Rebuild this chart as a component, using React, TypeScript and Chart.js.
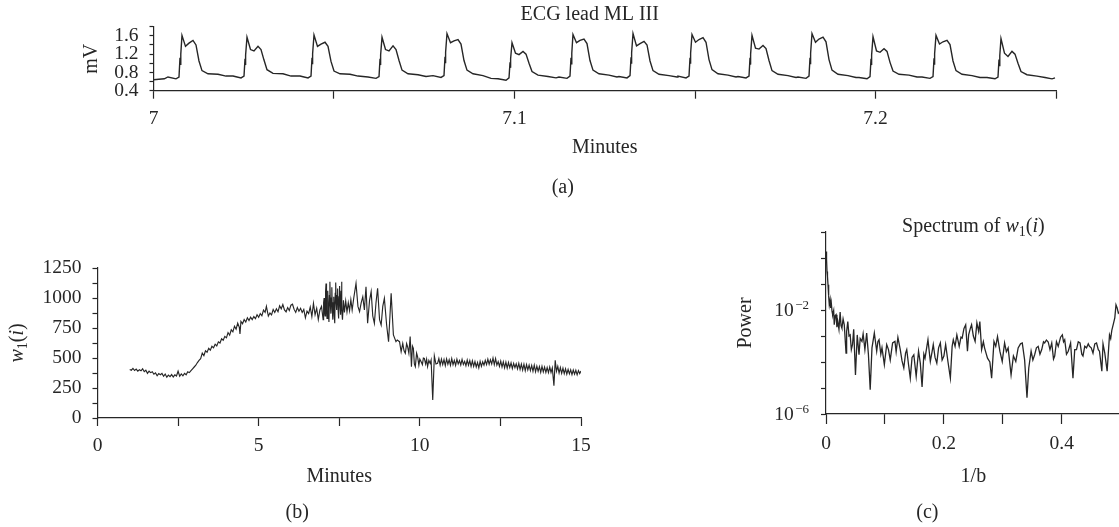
import React, { useEffect, useRef } from "react";
import { Chart, registerables } from "chart.js";

Chart.register(...registerables);

const FONT = '"Liberation Serif", "Times New Roman", serif';
const INK = "#262626";

// ---------- (a) ECG lead ML III : [minutes, mV] ----------
const ecgPoints: [number, number][] = [
  [7.0, 0.64], [7.0015, 0.65], [7.003, 0.66],
  [7.00401, 0.7], [7.00623, 0.66], [7.00706, 0.7], [7.00734, 1.12], [7.00745, 0.98], [7.00756, 1.2], [7.00789, 1.61], [7.00886, 1.37], [7.00983, 1.44], [7.01094, 1.5], [7.01177, 1.4], [7.0126, 1.05], [7.01343, 0.84], [7.01509, 0.77], [7.01786, 0.76], [7.02008, 0.72],
  [7.02202, 0.72], [7.02424, 0.68], [7.02507, 0.72], [7.02535, 1.1], [7.02546, 0.96], [7.02557, 1.18], [7.0259, 1.57], [7.02687, 1.3], [7.02784, 1.27], [7.02895, 1.37], [7.02978, 1.3], [7.03061, 1.07], [7.03144, 0.86], [7.0331, 0.78], [7.03587, 0.77], [7.03809, 0.72],
  [7.04058, 0.72], [7.0428, 0.68], [7.04363, 0.72], [7.04391, 1.12], [7.04402, 0.98], [7.04413, 1.21], [7.04446, 1.62], [7.04543, 1.37], [7.0464, 1.42], [7.04751, 1.46], [7.04834, 1.37], [7.04917, 1.04], [7.05, 0.83], [7.05166, 0.77], [7.05443, 0.76], [7.05665, 0.72],
  [7.05942, 0.7], [7.06164, 0.67], [7.06247, 0.71], [7.06275, 1.1], [7.06286, 0.96], [7.06297, 1.18], [7.0633, 1.57], [7.06427, 1.3], [7.06524, 1.27], [7.06635, 1.38], [7.06718, 1.3], [7.06801, 1.06], [7.06884, 0.85], [7.0705, 0.77], [7.07327, 0.75], [7.07549, 0.71],
  [7.07742, 0.73], [7.07964, 0.69], [7.08047, 0.73], [7.08075, 1.14], [7.08086, 1.0], [7.08097, 1.24], [7.0813, 1.65], [7.08227, 1.45], [7.08324, 1.49], [7.08435, 1.52], [7.08518, 1.42], [7.08601, 1.06], [7.08684, 0.85], [7.0885, 0.77], [7.09127, 0.73], [7.09349, 0.67],
  [7.09543, 0.66], [7.09765, 0.63], [7.09848, 0.68], [7.09876, 1.02], [7.09887, 0.9], [7.09898, 1.1], [7.09931, 1.45], [7.10028, 1.22], [7.10125, 1.19], [7.10236, 1.26], [7.10319, 1.2], [7.10402, 1.0], [7.10485, 0.82], [7.10651, 0.74], [7.10928, 0.71], [7.1115, 0.68],
  [7.11232, 0.7], [7.11454, 0.67], [7.11537, 0.72], [7.11565, 1.12], [7.11576, 0.99], [7.11587, 1.22], [7.1162, 1.63], [7.11717, 1.45], [7.11814, 1.5], [7.11925, 1.53], [7.12008, 1.43], [7.12091, 1.06], [7.12174, 0.85], [7.1234, 0.77], [7.12617, 0.74], [7.12839, 0.7],
  [7.12895, 0.71], [7.13117, 0.68], [7.132, 0.73], [7.13228, 1.13], [7.13239, 0.99], [7.1325, 1.23], [7.13283, 1.65], [7.1338, 1.38], [7.13477, 1.43], [7.13588, 1.48], [7.13671, 1.4], [7.13754, 1.05], [7.13837, 0.84], [7.14003, 0.76], [7.1428, 0.73], [7.14502, 0.7],
  [7.14529, 0.72], [7.14751, 0.68], [7.14834, 0.72], [7.14862, 1.12], [7.14873, 0.99], [7.14884, 1.22], [7.14917, 1.63], [7.15014, 1.46], [7.15111, 1.52], [7.15222, 1.56], [7.15305, 1.46], [7.15388, 1.08], [7.15471, 0.86], [7.15637, 0.77], [7.15914, 0.74], [7.16136, 0.7],
  [7.16191, 0.71], [7.16413, 0.68], [7.16496, 0.72], [7.16524, 1.12], [7.16535, 0.97], [7.16546, 1.2], [7.16579, 1.61], [7.16676, 1.33], [7.16773, 1.31], [7.16884, 1.39], [7.16967, 1.32], [7.1705, 1.06], [7.17133, 0.84], [7.17299, 0.76], [7.17576, 0.73], [7.17798, 0.69],
  [7.17853, 0.7], [7.18075, 0.67], [7.18158, 0.72], [7.18186, 1.12], [7.18197, 0.98], [7.18208, 1.22], [7.18241, 1.65], [7.18338, 1.46], [7.18435, 1.53], [7.18546, 1.57], [7.18629, 1.47], [7.18712, 1.08], [7.18795, 0.85], [7.18961, 0.76], [7.19238, 0.73], [7.1946, 0.69],
  [7.19543, 0.69], [7.19765, 0.66], [7.19848, 0.71], [7.19876, 1.1], [7.19887, 0.96], [7.19898, 1.18], [7.19931, 1.58], [7.20028, 1.27], [7.20125, 1.24], [7.20236, 1.32], [7.20319, 1.26], [7.20402, 1.02], [7.20485, 0.83], [7.20651, 0.76], [7.20928, 0.74], [7.2115, 0.7],
  [7.21288, 0.7], [7.2151, 0.67], [7.21593, 0.71], [7.21621, 1.11], [7.21632, 0.97], [7.21643, 1.21], [7.21676, 1.61], [7.21773, 1.42], [7.2187, 1.47], [7.21981, 1.5], [7.22064, 1.41], [7.22147, 1.05], [7.2223, 0.84], [7.22396, 0.76], [7.22673, 0.73], [7.22895, 0.69],
  [7.23088, 0.69], [7.2331, 0.66], [7.23393, 0.7], [7.23421, 1.08], [7.23432, 0.95], [7.23443, 1.17], [7.23476, 1.54], [7.23573, 1.22], [7.2367, 1.15], [7.23781, 1.26], [7.23864, 1.2], [7.23947, 1.0], [7.2403, 0.82], [7.24196, 0.75], [7.24473, 0.72], [7.24695, 0.69],
  [7.2489, 0.66], [7.24972, 0.68],
];
const ecgXLabels = [7, 7.1, 7.2];
const ecgYLabels = [0.4, 0.8, 1.2, 1.6];

// ---------- (b) w1(i) : [minutes, value] ----------
const w1Points: [number, number][] = [
  [1.0, 405], [1.05, 398], [1.1, 414], [1.15, 396], [1.2, 408], [1.25, 390], [1.3, 402], [1.35, 393], [1.4, 410], [1.45, 386],
  [1.5, 398], [1.55, 372], [1.6, 390], [1.65, 378], [1.7, 386], [1.75, 365], [1.8, 376], [1.85, 352], [1.9, 370], [1.95, 360],
  [2.0, 372], [2.05, 348], [2.1, 366], [2.15, 340], [2.2, 358], [2.25, 345], [2.3, 362], [2.35, 342], [2.4, 360], [2.45, 350],
  [2.5, 390], [2.55, 348], [2.6, 368], [2.65, 352], [2.7, 372], [2.75, 360], [2.8, 385], [2.85, 378], [2.9, 395], [2.95, 410],
  [3.0, 425], [3.05, 440], [3.1, 462], [3.15, 480], [3.2, 495], [3.25, 540], [3.3, 520], [3.35, 560], [3.4, 548], [3.45, 580],
  [3.5, 565], [3.55, 598], [3.6, 585], [3.65, 615], [3.7, 600], [3.75, 635], [3.8, 625], [3.85, 660], [3.9, 648], [3.95, 680],
  [4.0, 668], [4.05, 712], [4.1, 690], [4.15, 735], [4.2, 718], [4.25, 765], [4.3, 740], [4.35, 790], [4.4, 755], [4.42, 700],
  [4.45, 805], [4.5, 785], [4.55, 820], [4.6, 800], [4.65, 835], [4.7, 812], [4.75, 840], [4.8, 820], [4.85, 845], [4.9, 828],
  [4.95, 860], [5.0, 840], [5.05, 870], [5.1, 852], [5.15, 900], [5.2, 880], [5.24, 930], [5.3, 850], [5.35, 875], [5.4, 860],
  [5.45, 905], [5.5, 880], [5.55, 910], [5.6, 885], [5.65, 935], [5.7, 910], [5.75, 945], [5.8, 900], [5.85, 885], [5.9, 920],
  [5.95, 895], [6.0, 940], [6.05, 948], [6.1, 905], [6.15, 880], [6.2, 920], [6.25, 890], [6.3, 914], [6.35, 880], [6.4, 905],
  [6.45, 835], [6.5, 890], [6.55, 870], [6.6, 925], [6.65, 845], [6.7, 955], [6.75, 860], [6.8, 915], [6.85, 820], [6.9, 900],
  [6.95, 930], [7.0, 820], [7.015, 960], [7.03, 1000], [7.045, 880], [7.06, 850], [7.075, 1050], [7.09, 1120], [7.105, 900], [7.12, 830],
  [7.135, 990], [7.15, 1060], [7.165, 880], [7.18, 800], [7.195, 1020], [7.21, 1136], [7.225, 940], [7.24, 870], [7.255, 1000], [7.27, 1090],
  [7.285, 900], [7.3, 820], [7.315, 960], [7.33, 1010], [7.345, 850], [7.36, 790], [7.375, 1040], [7.39, 1130], [7.405, 960], [7.42, 900],
  [7.435, 1020], [7.45, 1080], [7.465, 900], [7.48, 830], [7.495, 1010], [7.51, 1100], [7.525, 930], [7.54, 860], [7.555, 1060], [7.57, 1135],
  [7.585, 900], [7.6, 820], [7.63, 980], [7.66, 880], [7.7, 975], [7.74, 885], [7.78, 960], [7.82, 895], [7.86, 985], [7.9, 900],
  [7.95, 1000], [8.02, 1122], [8.08, 930], [8.13, 886], [8.18, 960], [8.23, 1011], [8.28, 900], [8.33, 1094], [8.38, 789], [8.44, 980],
  [8.49, 1053], [8.54, 850], [8.59, 789], [8.64, 960], [8.69, 1081], [8.75, 820], [8.8, 775], [8.85, 930], [8.9, 997], [8.97, 775],
  [9.03, 636], [9.11, 1039], [9.18, 692], [9.26, 636], [9.3, 650], [9.37, 636], [9.42, 553], [9.47, 622], [9.51, 560], [9.55, 539],
  [9.59, 620], [9.62, 594], [9.66, 540], [9.7, 678], [9.74, 428], [9.77, 600], [9.8, 581], [9.83, 450], [9.86, 428], [9.9, 540],
  [9.93, 511], [9.97, 440], [10.0, 490], [10.04, 469], [10.08, 445], [10.11, 500], [10.14, 497], [10.18, 450], [10.21, 490], [10.24, 428],
  [10.28, 480], [10.32, 455], [10.35, 483], [10.4, 150], [10.45, 517], [10.5, 450], [10.55, 456], [10.59, 495], [10.63, 440], [10.67, 490],
  [10.71, 445], [10.75, 487], [10.79, 436], [10.83, 492], [10.87, 448], [10.91, 485], [10.95, 440], [10.99, 495], [11.03, 445], [11.07, 480],
  [11.11, 438], [11.15, 490], [11.19, 450], [11.23, 478], [11.27, 442], [11.31, 488], [11.35, 446], [11.39, 472], [11.43, 436], [11.47, 483],
  [11.51, 440], [11.55, 478], [11.59, 430], [11.63, 476], [11.67, 430], [11.71, 470], [11.75, 425], [11.79, 462], [11.83, 418], [11.87, 472],
  [11.91, 430], [11.95, 468], [11.99, 440], [12.03, 480], [12.07, 445], [12.11, 490], [12.15, 448], [12.19, 485], [12.23, 450], [12.27, 500],
  [12.31, 445], [12.35, 495], [12.39, 440], [12.43, 470], [12.47, 430], [12.51, 475], [12.55, 425], [12.59, 468], [12.63, 418], [12.67, 465],
  [12.71, 415], [12.75, 462], [12.79, 420], [12.83, 460], [12.87, 412], [12.91, 455], [12.95, 420], [12.99, 452], [13.03, 410], [13.07, 455],
  [13.11, 405], [13.15, 450], [13.19, 400], [13.23, 448], [13.27, 395], [13.31, 445], [13.35, 400], [13.39, 440], [13.43, 395], [13.47, 438],
  [13.51, 390], [13.55, 440], [13.59, 385], [13.63, 432], [13.67, 390], [13.71, 428], [13.75, 380], [13.79, 430], [13.83, 385], [13.87, 425],
  [13.91, 380], [13.95, 420], [13.99, 378], [14.03, 425], [14.07, 380], [14.11, 418], [14.16, 270], [14.2, 480], [14.24, 390], [14.28, 430],
  [14.32, 375], [14.36, 420], [14.4, 372], [14.44, 415], [14.48, 370], [14.52, 410], [14.56, 365], [14.6, 405], [14.64, 368], [14.68, 402],
  [14.72, 362], [14.76, 400], [14.8, 365], [14.84, 398], [14.88, 360], [14.92, 395], [14.96, 370], [15.0, 392],
];
const w1XLabels = [0, 5, 10, 15];
const w1YLabels = [0, 250, 500, 750, 1000, 1250];

// ---------- (c) Spectrum of w1(i) : [1/b, power] ----------
const spectrumPoints: [number, number][] = [
  [0.0, 1.78], [0.0009, 0.9], [0.0017, 0.3], [0.0025, 0.2], [0.0034, 0.093], [0.0045, 0.035], [0.0056, 0.0158], [0.007, 0.025], [0.008, 0.012], [0.009, 0.0186], [0.0102, 9e-3], [0.0113, 6.6e-3],
  [0.013, 9.5e-3], [0.014, 2.7e-3], [0.0155, 6e-3], [0.017, 6.6e-3], [0.0185, 2.2e-3], [0.02, 3.6e-3], [0.022, 1.8e-3], [0.024, 8.3e-3],
  [0.0255, 2.5e-3], [0.027, 2.0e-3], [0.029, 4.5e-3], [0.031, 2.7e-3], [0.034, 2.2e-4], [0.035, 1.5e-3], [0.037, 3.6e-3], [0.039, 1.0e-3],
  [0.041, 1.1e-3], [0.043, 3.0e-4], [0.045, 4.7e-4], [0.047, 1.8e-3], [0.05, 3.2e-5], [0.053, 1.1e-3], [0.056, 1.9e-4], [0.058, 8e-4],
  [0.061, 6.2e-4], [0.063, 1.2e-3], [0.066, 3.0e-4], [0.069, 1.3e-3], [0.072, 1.9e-4], [0.075, 8.5e-6], [0.078, 3.5e-4], [0.082, 1.3e-3],
  [0.086, 2.6e-4], [0.088, 6e-4], [0.09, 7.2e-4], [0.093, 2.0e-4], [0.095, 3.5e-4], [0.099, 7.9e-5], [0.103, 4.7e-4], [0.106, 3.0e-4],
  [0.109, 1.2e-4], [0.113, 5.4e-4], [0.117, 6.2e-4], [0.119, 2.5e-4], [0.122, 8.9e-4], [0.126, 3.0e-4], [0.129, 1.1e-4], [0.132, 5.9e-5],
  [0.135, 2.2e-4], [0.137, 3.0e-4], [0.14, 8e-5], [0.143, 2.4e-5], [0.146, 1.5e-4], [0.149, 1.9e-4], [0.153, 2.8e-5], [0.157, 2.6e-4],
  [0.16, 9e-5], [0.163, 1.1e-5], [0.166, 2.0e-4], [0.168, 1.4e-4], [0.173, 7.2e-4], [0.177, 1.05e-4], [0.18, 2.5e-4], [0.182, 4.7e-4],
  [0.185, 1.5e-4], [0.188, 9.1e-5], [0.191, 3.5e-4], [0.194, 5.4e-4], [0.197, 1.2e-4], [0.2, 1.7e-4], [0.203, 4.7e-4], [0.207, 1.0e-4],
  [0.211, 2.4e-5], [0.214, 4e-4], [0.216, 7.2e-4], [0.219, 4.0e-4], [0.222, 1.1e-3], [0.226, 4.0e-4], [0.229, 9e-4], [0.231, 8.3e-4],
  [0.234, 1.9e-3], [0.237, 2.7e-3], [0.24, 2.6e-4], [0.242, 1.1e-3], [0.245, 2.0e-3], [0.247, 2.7e-3], [0.25, 1.0e-3], [0.253, 6.2e-4],
  [0.256, 3.2e-3], [0.259, 1.5e-3], [0.261, 3.6e-3], [0.264, 3.0e-4], [0.267, 6e-4], [0.269, 3.5e-4], [0.272, 2.0e-4], [0.274, 1.4e-4],
  [0.278, 1e-4], [0.281, 2.4e-5], [0.285, 6.2e-4], [0.288, 4e-4], [0.291, 9.5e-4], [0.295, 2.6e-4], [0.299, 1.05e-4], [0.303, 5.4e-4],
  [0.306, 2.5e-4], [0.309, 3.5e-4], [0.314, 3.2e-5], [0.318, 1.7e-4], [0.322, 1.05e-4], [0.326, 3.5e-4], [0.33, 5e-4], [0.333, 5.4e-4],
  [0.337, 1.2e-4], [0.341, 4.2e-6], [0.344, 5.9e-5], [0.348, 2.6e-4], [0.351, 1.2e-4], [0.354, 1.9e-4], [0.357, 3.5e-4], [0.36, 4.0e-4],
  [0.363, 2e-4], [0.366, 3.0e-4], [0.369, 6e-4], [0.371, 5.4e-4], [0.374, 7e-4], [0.377, 5.9e-4], [0.38, 3e-4], [0.383, 5.4e-4],
  [0.386, 1.3e-4], [0.388, 1.7e-4], [0.391, 6e-4], [0.394, 4.0e-4], [0.398, 9e-4], [0.401, 1.1e-3], [0.403, 6e-4], [0.405, 7.2e-4],
  [0.408, 2e-4], [0.411, 2.6e-4], [0.415, 5.4e-4], [0.419, 2.4e-5], [0.422, 3e-4], [0.425, 3.0e-4], [0.428, 6e-4], [0.431, 5.4e-4],
  [0.434, 2e-4], [0.436, 1.7e-4], [0.439, 4e-4], [0.442, 3.5e-4], [0.445, 5e-4], [0.447, 4.0e-4], [0.45, 3.5e-4], [0.453, 2.2e-4],
  [0.456, 5e-4], [0.459, 5.4e-4], [0.462, 3e-4], [0.464, 2.6e-4], [0.468, 4.4e-5], [0.47, 5e-4], [0.473, 2.2e-4], [0.477, 4.4e-5],
  [0.481, 1.1e-3], [0.483, 8e-4], [0.485, 1.7e-3], [0.488, 3.2e-3], [0.49, 5e-3], [0.492, 0.0158], [0.494, 0.012], [0.496, 7.6e-3],
  [0.499, 9e-3],
];
const specXLabels = [0, 0.2, 0.4];
const specDecades = [-6, -5, -4, -3, -2, -1, 0, 1];
const specLabeledDecades = [-2, -6];

type Seg = { t: string; it?: boolean; sub?: boolean; sup?: boolean };

function drawRich(
  ctx: CanvasRenderingContext2D,
  segs: Seg[],
  x: number,
  y: number,
  size: number,
  align: "left" | "center" | "right" = "center",
  rot = 0
) {
  ctx.save();
  ctx.translate(x, y);
  if (rot) ctx.rotate(rot);
  const fontFor = (s: Seg) =>
    `${s.it ? "italic " : ""}${s.sub || s.sup ? Math.round(size * 0.7) : size}px ${FONT}`;
  let w = 0;
  for (const s of segs) {
    ctx.font = fontFor(s);
    w += ctx.measureText(s.t).width;
  }
  let cx = align === "center" ? -w / 2 : align === "right" ? -w : 0;
  ctx.textBaseline = "middle";
  ctx.textAlign = "left";
  ctx.fillStyle = INK;
  for (const s of segs) {
    ctx.font = fontFor(s);
    const dy = s.sub ? size * 0.28 : s.sup ? -size * 0.32 : 0;
    ctx.fillText(s.t, cx, dy);
    cx += ctx.measureText(s.t).width;
  }
  ctx.restore();
}

const labelFrom = (list: number[]) => (v: number | string) => {
  const n = Number(v);
  const hit = list.find((l) => Math.abs(l - n) < 1e-6);
  return hit === undefined ? "" : String(hit);
};

function axis(o: {
  horizontal: boolean;
  type?: string;
  min: number;
  max: number;
  step?: number;
  tickLength: number;
  padding: number;
  size: number;
  callback: (v: number | string) => string;
  afterBuildTicks?: (s: any) => void;
}) {
  return {
    type: o.type ?? "linear",
    min: o.min,
    max: o.max,
    border: { display: true, color: INK, width: 1.2 },
    grid: {
      display: true,
      drawOnChartArea: false,
      drawTicks: true,
      tickLength: o.tickLength,
      tickColor: INK,
      tickWidth: 1.2,
    },
    ticks: {
      stepSize: o.step,
      autoSkip: false,
      maxTicksLimit: 100,
      maxRotation: 0,
      minRotation: 0,
      padding: o.padding,
      color: INK,
      font: { family: FONT, size: 19.5 },
      callback: o.callback,
    },
    afterBuildTicks: o.afterBuildTicks,
    afterFit: (s: any) => {
      if (o.horizontal) s.height = o.size;
      else s.width = o.size;
    },
  };
}

function baseOptions(padding: { left: number; right: number; top: number; bottom: number }) {
  return {
    responsive: false,
    animation: false as const,
    devicePixelRatio: 1,
    layout: { padding },
    plugins: {
      legend: { display: false },
      tooltip: { enabled: false },
      title: { display: false },
    },
  };
}

function lineDataset(points: [number, number][], width: number) {
  return {
    data: points.map(([x, y]) => ({ x, y })),
    borderColor: INK,
    borderWidth: width,
    pointRadius: 0,
    fill: false,
    tension: 0,
  };
}

export default function App() {
  const refA = useRef<HTMLCanvasElement>(null);
  const refB = useRef<HTMLCanvasElement>(null);
  const refC = useRef<HTMLCanvasElement>(null);

  useEffect(() => {
    const charts: Chart[] = [];

    // ---- (a) ----
    const textA = {
      id: "textA",
      afterDraw(chart: any) {
        const ctx = chart.ctx as CanvasRenderingContext2D;
        const ca = chart.chartArea;
        const mid = (ca.left + ca.right) / 2;
        drawRich(ctx, [{ t: "ECG lead ML III" }], mid - 15, 15, 20);
        drawRich(ctx, [{ t: "mV" }], 91.5, (ca.top + ca.bottom) / 2, 20, "center", -Math.PI / 2);
        drawRich(ctx, [{ t: "Minutes" }], mid, ca.bottom + 57, 20);
        drawRich(ctx, [{ t: "(a)" }], mid - 42, ca.bottom + 97, 20);
      },
    };
    charts.push(
      new Chart(refA.current!, {
        type: "line",
        data: { datasets: [lineDataset(ecgPoints, 1.4) as any] },
        options: {
          ...baseOptions({ left: 0, right: 63, top: 26.7, bottom: 0 }),
          scales: {
            x: axis({ horizontal: true, min: 7, max: 7.25, step: 0.05, tickLength: 8, padding: 8, size: 109.3, callback: labelFrom(ecgXLabels) }) as any,
            y: axis({ horizontal: false, min: 0.4, max: 1.8, step: 0.2, tickLength: 4, padding: 11, size: 153.5, callback: labelFrom(ecgYLabels) }) as any,
          },
        } as any,
        plugins: [textA],
      })
    );

    // ---- (b) ----
    const textB = {
      id: "textB",
      afterDraw(chart: any) {
        const ctx = chart.ctx as CanvasRenderingContext2D;
        const ca = chart.chartArea;
        const mid = (ca.left + ca.right) / 2;
        drawRich(ctx, [{ t: "Minutes" }], mid, ca.bottom + 59, 20);
        drawRich(ctx, [{ t: "(b)" }], mid - 42, ca.bottom + 95, 20);
        drawRich(
          ctx,
          [{ t: "w", it: true }, { t: "1", sub: true }, { t: "(" }, { t: "i", it: true }, { t: ")" }],
          18,
          (ca.top + ca.bottom) / 2,
          20,
          "center",
          -Math.PI / 2
        );
      },
    };
    charts.push(
      new Chart(refB.current!, {
        type: "line",
        data: { datasets: [lineDataset(w1Points, 1.15) as any] },
        options: {
          ...baseOptions({ left: 0, right: 119, top: 68, bottom: 0 }),
          scales: {
            x: axis({ horizontal: true, min: 0, max: 15, step: 2.5, tickLength: 8, padding: 8, size: 109, callback: labelFrom(w1XLabels) }) as any,
            y: axis({ horizontal: false, min: 0, max: 1250, step: 125, tickLength: 5, padding: 11, size: 97.5, callback: labelFrom(w1YLabels) }) as any,
          },
        } as any,
        plugins: [textB],
      })
    );

    // ---- (c) ----
    const textC = {
      id: "textC",
      afterDraw(chart: any) {
        const ctx = chart.ctx as CanvasRenderingContext2D;
        const ca = chart.chartArea;
        const mid = (ca.left + ca.right) / 2;
        drawRich(
          ctx,
          [{ t: "Spectrum of " }, { t: "w", it: true }, { t: "1", sub: true }, { t: "(" }, { t: "i", it: true }, { t: ")" }],
          mid,
          ca.top - 5,
          20
        );
        drawRich(ctx, [{ t: "1/b" }], mid, ca.bottom + 63, 20);
        drawRich(ctx, [{ t: "(c)" }], mid - 46, ca.bottom + 99, 20);
        drawRich(ctx, [{ t: "Power" }], 45.6, (ca.top + ca.bottom) / 2, 20, "center", -Math.PI / 2);
        const ys = chart.scales.y;
        for (const e of specLabeledDecades) {
          const py = ys.getPixelForValue(Math.pow(10, e));
          const right = ca.left - 17;
          ctx.save();
          ctx.fillStyle = INK;
          ctx.textBaseline = "middle";
          ctx.font = `13px ${FONT}`;
          ctx.textAlign = "left";
          const sup = "\u2212" + String(-e);
          const supW = ctx.measureText(sup).width;
          ctx.fillText(sup, right - supW, py - 4);
          ctx.font = `19.5px ${FONT}`;
          ctx.textAlign = "right";
          ctx.fillText("10", right - supW - 1.5, py + 1);
          ctx.restore();
        }
      },
    };
    charts.push(
      new Chart(refC.current!, {
        type: "line",
        data: { datasets: [lineDataset(spectrumPoints, 1.3) as any] },
        options: {
          ...baseOptions({ left: 0, right: 39.3, top: 32, bottom: 0 }),
          scales: {
            x: axis({ horizontal: true, min: 0, max: 0.5, step: 0.1, tickLength: 10, padding: 8, size: 113, callback: labelFrom(specXLabels) }) as any,
            y: axis({
              horizontal: false,
              type: "logarithmic",
              min: 1e-6,
              max: 10,
              tickLength: 5,
              padding: 4,
              size: 126,
              callback: () => "",
              afterBuildTicks: (s: any) => {
                s.ticks = specDecades.map((e) => ({ value: Math.pow(10, e) }));
              },
            }) as any,
          },
        } as any,
        plugins: [textC],
      })
    );

    return () => charts.forEach((c) => c.destroy());
  }, []);

  return (
    <div
      style={{
        position: "absolute",
        left: 0,
        top: 0,
        width: 1119,
        height: 527,
        overflow: "hidden",
        background: "#fff",
      }}
    >
      <canvas ref={refA} width={1119} height={200} style={{ position: "absolute", left: 0, top: 0 }} />
      <canvas ref={refB} width={700} height={327} style={{ position: "absolute", left: 0, top: 200 }} />
      <canvas ref={refC} width={460} height={327} style={{ position: "absolute", left: 700, top: 200 }} />
    </div>
  );
}
